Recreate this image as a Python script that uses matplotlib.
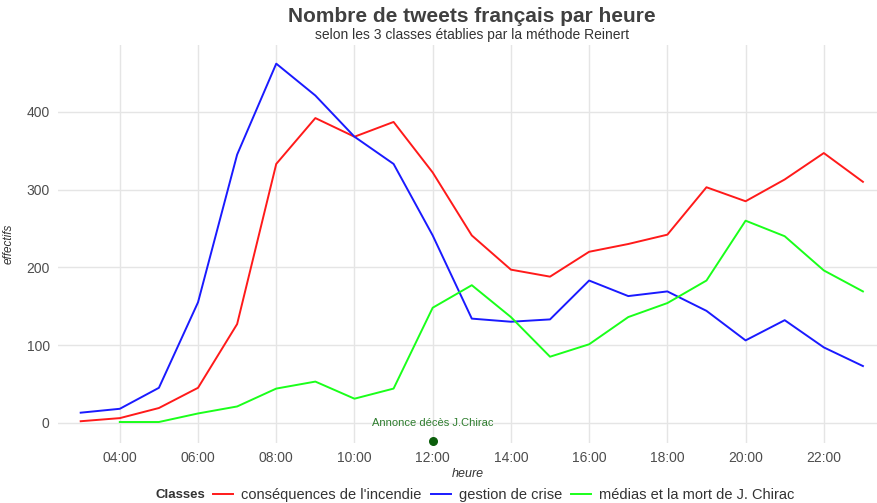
import numpy as np
import matplotlib.pyplot as plt

plt.rcParams['font.family'] = ['Liberation Sans', 'DejaVu Sans']

# donnees
heures = list(range(3, 24))
consequences = [2, 6, 19, 45, 127, 333, 392, 368, 387, 322, 241, 197, 188, 220,
                230, 242, 303, 285, 313, 347, 310]
gestion = [13, 18, 45, 155, 345, 462, 421, 368, 333, 241, 134, 130, 133, 183,
           163, 169, 144, 106, 132, 97, 73]
heures_medias = list(range(4, 24))
medias = [1, 1, 12, 21, 44, 53, 31, 44, 148, 177, 136, 85, 101, 136,
          154, 183, 260, 240, 196, 169]

ticks = [4, 6, 8, 10, 12, 14, 16, 18, 20, 22]
tick_labels = ["04:00", "06:00", "08:00", "10:00", "12:00", "14:00",
               "16:00", "18:00", "20:00", "22:00"]
annonce_x = 12
annonce_y = -23

fig = plt.figure(figsize=(8.77, 5.03), dpi=100)
ax = fig.add_axes([58/877, 60/503, 819/877, 398/503])

ax.plot(heures, consequences, color='#FF1A1A', lw=1.4, label="conséquences de l'incendie")
ax.plot(heures, gestion, color='#1A1AFF', lw=1.4, label="gestion de crise")
ax.plot(heures_medias, medias, color='#1AFF1A', lw=1.4, label="médias et la mort de J. Chirac")

ax.scatter([annonce_x], [annonce_y], s=30, color='#0B5E0B', zorder=5, clip_on=False)
ax.text(annonce_x, 0, "Annonce décès J.Chirac", color='#2E7D2E', fontsize=8,
        ha='center', va='center')

ax.set_xlim(2.42, 23.36)
ax.set_ylim(-26, 486)
ax.set_xticks(ticks)
ax.set_xticklabels(tick_labels)
ax.set_yticks([0, 100, 200, 300, 400])
ax.tick_params(length=0, labelsize=10, labelcolor='#4D4D4D', pad=6)
ax.grid(True, color='#E5E5E5', lw=1)
ax.set_axisbelow(True)
for s in ax.spines.values():
    s.set_visible(False)

ax.set_xlabel("heure", fontstyle='italic', fontsize=9, color='#333333', labelpad=2)
ax.set_ylabel("effectifs", fontstyle='italic', fontsize=8.5, color='#333333')
ax.yaxis.set_label_coords(-43/819, 0.5)

fig.text(472/877, 1 - 17/503, "Nombre de tweets français par heure", ha='center', va='center',
         fontsize=15, fontweight='bold', color='#404040')
fig.text(472/877, 1 - 35/503, "selon les 3 classes établies par la méthode Reinert", ha='center',
         va='center', fontsize=10, color='#333333')

fig.text(155/877, 1 - 495/503, "Classes", fontsize=9.5, fontweight='bold', color='#333333',
         ha='left', va='center')
leg = fig.legend(loc='center left', bbox_to_anchor=(213/877, 1 - 495/503), ncol=3, frameon=False,
                 fontsize=10.5, handlelength=1.4, handletextpad=0.55, columnspacing=0.6,
                 borderaxespad=0, borderpad=0)
for t in leg.get_texts():
    t.set_color('#333333')

fig.savefig("out.png", dpi=100)
